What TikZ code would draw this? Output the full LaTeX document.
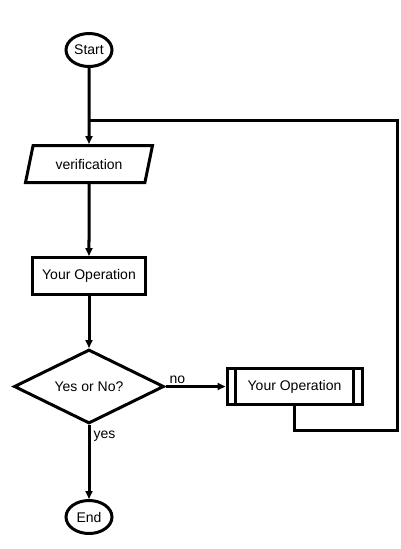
\documentclass[tikz,border=0pt]{standalone}
\usepackage{fontspec}
\setmainfont{Liberation Sans}
\usetikzlibrary{arrows.meta,positioning,shapes.geometric}

\begin{document}
\begin{tikzpicture}[
  x=1pt, y=1pt,
  font=\fontsize{14}{16}\selectfont,
  line width=3pt,
  % start / end terminal
  term/.style={draw, ellipse, minimum width=46pt, minimum height=33pt, inner sep=1pt},
  % input parallelogram
  io/.style={draw, trapezium, trapezium left angle=62, trapezium right angle=118,
             trapezium stretches body=true,
             minimum width=127pt, minimum height=37pt, inner sep=2pt},
  % process rectangle
  proc/.style={draw, rectangle, minimum width=113pt, minimum height=37pt},
  % predefined process (drawn with side bars)
  preproc/.style={draw, rectangle, minimum width=135pt, minimum height=36pt},
  % decision diamond
  dec/.style={draw, diamond, aspect=2.03, minimum width=150pt, minimum height=74pt, inner sep=1pt},
  % arrows
  arr/.style={-{Triangle[length=8pt,width=7pt]}},
  lbl/.style={inner sep=1pt},
]
\useasboundingbox (0,0) rectangle (401,-549);

%% Nodes (main column)
\node[term]  (start)  at (89,-50)            {Start};
\node[io]    (verif)  [below=76pt of start]  {verification};
\node[proc]  (op)     [below=72pt of verif]  {Your Operation};
\node[dec]   (choice) [below=52pt of op]     {Yes or No?};
\node[term]  (stop)   [below=74pt of choice] {End};
\node[preproc] (op2)  [right=60pt of choice] {Your Operation};

%% side bars of the predefined process
\draw ([xshift=10pt]op2.north west) -- ([xshift=10pt]op2.south west);
\draw ([xshift=-10pt]op2.north east) -- ([xshift=-10pt]op2.south east);

%% Main flow arrows
\draw[arr] (start)  -- (verif);
\draw[arr] (verif)  -- (op);
\draw[arr] (op)     -- (choice);
\draw[arr] (choice) -- node[lbl,right=2pt,pos=0.15]{yes} (stop);
\draw[arr] (choice.east) -- node[lbl,above,pos=0.2]{no} (op2.west);

%% Loop back
\coordinate (loopR) at (397,-120);
\draw (op2.south) -- ++(0,-24) -| (loopR) -- (loopR -| start);

\end{tikzpicture}
\end{document}
